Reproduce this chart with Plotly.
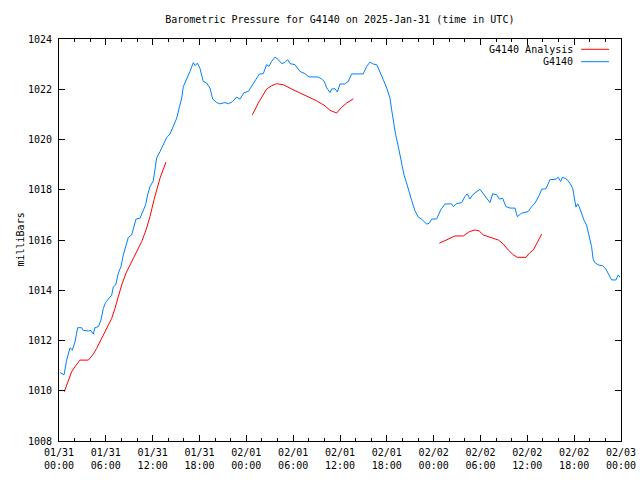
import plotly.graph_objects as go
import pandas as pd

# ---- data (hours since 2025-01-31 00:00 UTC, pressure in mb) ----
blue_hours = [0.13, 0.64, 0.98, 1.41, 1.71, 2.05, 2.39, 2.9, 3.1, 3.76, 4.1, 4.4, 4.6, 5.04, 5.38, 5.68, 5.98,
              6.4, 6.75, 6.96, 7.26, 7.6, 7.94, 8.24, 8.54, 8.88, 9.31, 9.65, 9.86, 10.38, 10.8, 11.1, 11.36,
              11.66, 12.08, 12.3, 12.51, 12.94, 13.36, 13.8, 14.22, 14.65, 15.08, 15.37, 15.72, 15.93, 16.36,
              16.78, 17.21, 17.45, 17.72, 18.05, 18.48, 18.9, 19.34, 19.69, 20.2, 20.6, 21.27, 21.7, 22.24,
              22.76, 23.19, 23.7, 24.25, 24.9, 25.66, 26.17, 26.6, 26.9, 27.25, 27.67, 28.1, 28.53, 28.95,
              29.3, 29.6, 30.23, 30.87, 31.5, 32.03, 33.2, 33.65, 33.99, 34.3, 34.72, 34.93, 35.36, 35.66,
              36.0, 36.6, 37.06, 37.5, 38.98, 39.42, 39.84, 40.27, 40.7, 41.12, 41.55, 41.98, 42.4, 42.62,
              42.83, 43.13, 43.47, 43.81, 44.2, 44.54, 44.88, 45.22, 45.61, 46.03, 46.46, 47.1, 47.44, 47.74,
              48.39, 48.9, 49.45, 50.0, 50.3, 50.52, 50.9, 51.6, 52.0, 52.3, 52.65, 53.0, 53.42, 53.93, 54.36,
              54.79, 55.21, 55.56, 56.07, 56.4, 56.84, 57.26, 57.78, 58.42, 58.71, 59.28, 59.83, 60.1, 60.56,
              60.98, 61.53, 61.84, 62.39, 62.9, 63.67, 63.96, 64.27, 64.5, 65.04, 65.46, 65.81, 66.01, 66.23,
              66.44, 66.64, 66.94, 67.24, 67.58, 67.92, 68.23, 68.43, 68.65, 69.08, 69.65, 70.07, 70.5, 70.8,
              71.35, 71.65, 71.87]
blue_values = [1010.73, 1010.63, 1011.22, 1011.71, 1011.62, 1011.95, 1012.51, 1012.51, 1012.4, 1012.38, 1012.4,
               1012.25, 1012.51, 1012.55, 1012.82, 1013.28, 1013.52, 1013.68, 1013.81, 1014.14, 1014.21,
               1014.68, 1014.94, 1015.41, 1015.74, 1016.1, 1016.2, 1016.6, 1016.83, 1016.87, 1017.2, 1017.4,
               1017.8, 1018.13, 1018.35, 1018.79, 1019.26, 1019.52, 1019.82, 1020.08, 1020.22, 1020.52,
               1020.85, 1021.22, 1021.65, 1022.11, 1022.38, 1022.71, 1023.06, 1022.94, 1023.04, 1022.84,
               1022.31, 1022.25, 1022.05, 1021.61, 1021.47, 1021.42, 1021.47, 1021.42, 1021.51, 1021.69,
               1021.61, 1021.87, 1021.91, 1022.25, 1022.6, 1022.62, 1022.98, 1022.91, 1023.11, 1023.28,
               1023.18, 1023.02, 1023.07, 1023.18, 1023.02, 1022.98, 1022.71, 1022.62, 1022.49, 1022.49,
               1022.41, 1022.31, 1022.05, 1021.87, 1022.01, 1022.02, 1021.89, 1022.21, 1022.21, 1022.31,
               1022.61, 1022.61, 1022.91, 1023.08, 1023.0, 1022.98, 1022.71, 1022.38, 1022.05, 1021.65,
               1021.18, 1020.72, 1020.19, 1019.72, 1019.12, 1018.59, 1018.26, 1017.86, 1017.53, 1017.16,
               1016.91, 1016.83, 1016.63, 1016.67, 1016.83, 1016.84, 1017.2, 1017.43, 1017.43, 1017.44,
               1017.33, 1017.44, 1017.49, 1017.73, 1017.84, 1017.63, 1017.8, 1017.89, 1018.02, 1017.84,
               1017.66, 1017.49, 1017.84, 1017.8, 1017.63, 1017.66, 1017.33, 1017.27, 1017.27, 1016.93,
               1017.07, 1017.09, 1017.13, 1017.33, 1017.47, 1017.78, 1018.02, 1018.04, 1018.4, 1018.42,
               1018.5, 1018.33, 1018.5, 1018.42, 1018.26, 1018.06, 1017.66, 1017.31, 1017.44, 1017.33,
               1017.07, 1016.8, 1016.6, 1016.2, 1015.74, 1015.24, 1015.1, 1015.01, 1014.97, 1014.84,
               1014.61, 1014.41, 1014.41, 1014.61, 1014.52]

red_seg1_hours = [0.68, 1.2, 1.62, 2.05, 2.69, 3.76, 4.4, 4.83, 5.47, 6.11, 6.75, 7.17, 7.6, 8.03, 8.58, 9.31,
                  9.95, 10.6, 11.15, 11.66, 12.17, 12.94, 13.7]
red_seg1_values = [1009.96, 1010.43, 1010.76, 1010.96, 1011.22, 1011.22, 1011.46, 1011.69, 1012.09, 1012.49,
                   1012.88, 1013.28, 1013.75, 1014.21, 1014.68, 1015.14, 1015.54, 1015.94, 1016.4, 1016.93,
                   1017.6, 1018.46, 1019.1]
red_seg2_hours = [24.77, 25.53, 26.6, 27.25, 27.88, 28.73, 29.8, 30.87, 31.94, 33.0, 34.08, 34.72, 35.27,
                  35.57, 36.2, 36.85, 37.7]
red_seg2_values = [1020.98, 1021.45, 1022.01, 1022.14, 1022.22, 1022.18, 1022.01, 1021.85, 1021.69, 1021.54,
                   1021.34, 1021.16, 1021.09, 1021.05, 1021.28, 1021.45, 1021.62]
red_seg3_hours = [48.72, 49.45, 50.09, 50.73, 51.8, 52.56, 53.3, 53.84, 54.36, 55.21, 56.28, 56.92, 57.56,
                  58.2, 58.71, 59.83, 60.34, 60.77, 61.28, 61.84]
red_seg3_values = [1015.87, 1015.98, 1016.07, 1016.16, 1016.16, 1016.33, 1016.4, 1016.36, 1016.2, 1016.1,
                   1016.0, 1015.84, 1015.6, 1015.41, 1015.31, 1015.31, 1015.5, 1015.6, 1015.9, 1016.24]

series_names = ["G4140 Analysis", "G4140"]
series_colors = ["#ff0000", "#0080ff"]

base = pd.Timestamp("2025-01-31 00:00")


def to_time(hours):
    return [base + pd.Timedelta(hours=h) if h is not None else None for h in hours]


red_hours = red_seg1_hours + [None] + red_seg2_hours + [None] + red_seg3_hours
red_values = red_seg1_values + [None] + red_seg2_values + [None] + red_seg3_values

FONT = "DejaVu Sans Mono"

fig = go.Figure()
fig.add_trace(go.Scatter(x=to_time(red_hours), y=red_values, mode="lines", name=series_names[0],
                         line=dict(color=series_colors[0], width=1), connectgaps=False, showlegend=False))
fig.add_trace(go.Scatter(x=to_time(blue_hours), y=blue_values, mode="lines", name=series_names[1],
                         line=dict(color=series_colors[1], width=1), showlegend=False))

# manual gnuplot-style legend (text right, sample line left->right)
legend_y = [0.9744, 0.9435]
for name, color, ly in zip(series_names, series_colors, legend_y):
    fig.add_annotation(x=0.918, y=ly, xref="paper", yref="paper", text=name, showarrow=False,
                       xanchor="right", yanchor="middle", font=dict(family=FONT, size=10, color="black"))
    fig.add_shape(type="line", xref="paper", yref="paper", x0=0.929, x1=0.9786, y0=ly, y1=ly,
                  line=dict(color=color, width=1))

fig.add_annotation(x=0, y=0.5, xref="paper", yref="paper", text="milliBars", textangle=-90,
                   showarrow=False, xshift=-47, font=dict(family=FONT, size=10, color="black"))

fig.update_layout(
    width=640, height=480,
    margin=dict(l=59, r=19, t=39, b=39, autoexpand=False),
    paper_bgcolor="white", plot_bgcolor="white",
    font=dict(family=FONT, size=10, color="black"),
    title=dict(text="Barometric Pressure for G4140 on 2025-Jan-31 (time in UTC)", x=0.531, xanchor="center",
               y=1 - 19 / 480, yanchor="middle", font=dict(family=FONT, size=10, color="black")),
    showlegend=False,
)
fig.update_xaxes(
    range=[base, base + pd.Timedelta(hours=72)],
    tickformat="%m/%d<br>%H:%M", dtick=6 * 3600 * 1000, tick0=base,
    ticks="inside", ticklen=6, tickcolor="black", tickwidth=1,
    minor=dict(dtick=2 * 3600 * 1000, ticks="inside", ticklen=3, tickcolor="black", showgrid=False),
    showline=True, linecolor="black", linewidth=1, mirror="ticks",
    showgrid=False, zeroline=False, ticklabelstandoff=2, automargin=False,
)
fig.update_yaxes(
    range=[1008, 1024], dtick=2, tick0=1008,
    ticks="inside", ticklen=6, tickcolor="black", tickwidth=1,
    showline=True, linecolor="black", linewidth=1, mirror="ticks",
    showgrid=False, zeroline=False, ticklabelstandoff=4, automargin=False,
)

fig.write_html("out.html")
